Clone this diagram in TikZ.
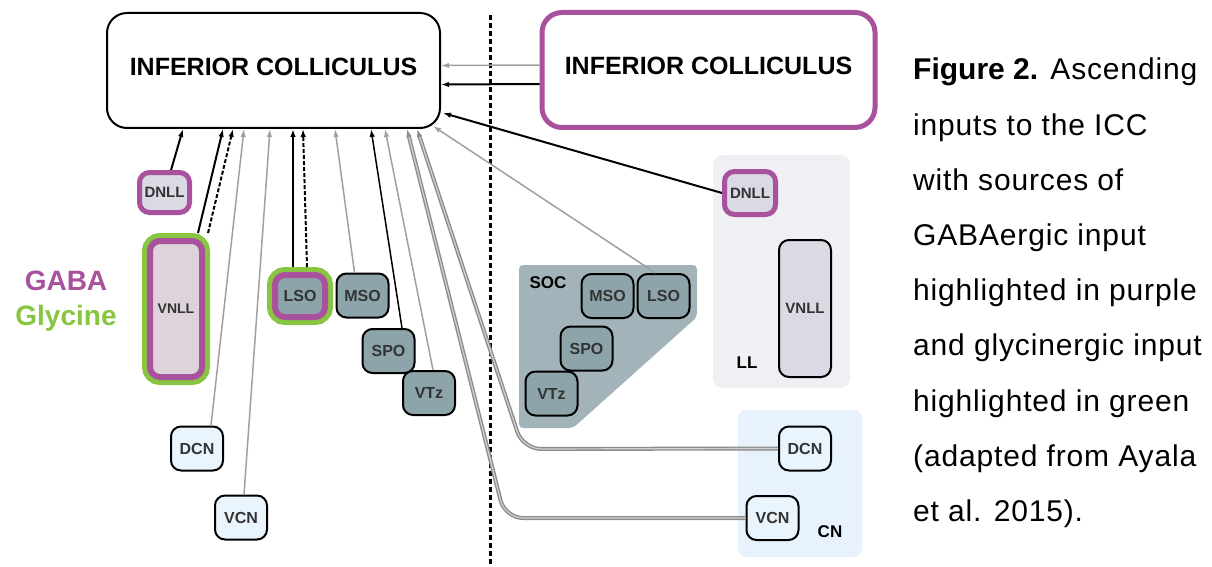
\documentclass[tikz,border=0pt]{standalone}
\usepackage{fontspec}
\setmainfont{Liberation Sans}
\usepackage{tikz}
\usetikzlibrary{arrows.meta}

\definecolor{gabapurple}{HTML}{A8529E}
\definecolor{glygreen}{HTML}{88C540}
\definecolor{socbg}{HTML}{A2B4B9}
\definecolor{socnode}{HTML}{8CA4AA}
\definecolor{llbg}{HTML}{EFEFF4}
\definecolor{llnode}{HTML}{D9DAE3}
\definecolor{vnllpink}{HTML}{DED2DB}
\definecolor{cnbg}{HTML}{E8F2FC}
\definecolor{cnnode}{HTML}{EAF4FD}
\definecolor{nuctext}{HTML}{333333}
\definecolor{arrowgray}{HTML}{A0A0A0}
\definecolor{doublegray}{HTML}{8C8C8C}

\tikzset{>={Latex[length=8pt,width=5.5pt]}}
\tikzset{
    nucleus/.style={draw, line width=2pt, rounded corners=10pt, minimum width=52pt,
        minimum height=44pt, inner sep=0pt, text=nuctext,
        font=\bfseries\fontsize{16}{16}\selectfont},
    socnuc/.style={nucleus, fill=socnode},
    cnnuc/.style={nucleus, fill=cnnode},
    gabanuc/.style={draw=gabapurple, line width=5pt},
    glynuc/.style={preaction={draw=glygreen, line width=16pt}, outer sep=8pt},
    icbox/.style={draw, line width=2pt, rounded corners=20pt, minimum width=333pt,
        minimum height=115pt, text depth=8pt, font=\bfseries\fontsize{25}{25}\selectfont},
    region/.style={font=\bfseries\fontsize{17}{17}\selectfont},
    blackarrow/.style={->, line width=2pt},
    grayarrow/.style={->, draw=arrowgray, line width=1.5pt},
    doublearrow/.style={->, draw=doublegray, double=gray!35, line width=1.4pt,
        double distance=1.2pt},
    midline/.style={line width=3pt, dash pattern=on 5pt off 3pt}
}

\begin{document}
\begin{tikzpicture}[x=1pt, y=-1pt]
    \useasboundingbox (0,0) rectangle (1212,567);
    \fill[white] (0,0) rectangle (1212,567);

    % areas on the right
    \fill[llbg, rounded corners=10pt] (713,155) rectangle (850,388);
    \fill[cnbg, rounded corners=8pt] (738,410) rectangle (862,557);
    \fill[socbg, rounded corners=4pt] (519,265) -- (697,265) -- (697,317)
        -- (573,428) -- (519,428) -- cycle;

    \coordinate (top) at (490,15);
    \coordinate (bottom) at (490,567);
    \draw[midline] (top) -- (bottom);

    \node[icbox] (ic) at (273.5,70.5) {INFERIOR COLLICULUS};
    \node[icbox, draw=gabapurple, line width=5pt] (icR) at (708.5,70) {INFERIOR COLLICULUS};

    % left side
    \node[nucleus, gabanuc, fill=llnode, minimum width=50pt, minimum height=40pt,
        font=\bfseries\fontsize{15}{15}\selectfont] (dnllL) at (164.5,192.5) {DNLL};
    \node[nucleus, gabanuc, glynuc, line width=6pt, fill=vnllpink, minimum width=52pt,
        minimum height=136pt, font=\bfseries\fontsize{14}{14}\selectfont] (vnllL) at (176,309) {VNLL};
    \node[socnuc, gabanuc, glynuc, line width=6pt, minimum width=50pt, minimum height=42pt]
        (lsoL) at (300,296) {LSO};
    \node[socnuc] (msoL) at (362.5,295.5) {MSO};
    \node[socnuc] (spoL) at (388.5,351) {SPO};
    \node[socnuc] (vtzL) at (429,393) {VTz};
    \node[cnnuc] (dcnL) at (197,448.5) {DCN};
    \node[cnnuc] (vcnL) at (241,517.5) {VCN};

    \node[font=\bfseries\fontsize{28}{28}\selectfont, text=gabapurple, anchor=base]
        (gabalabel) at (66,290) {GABA};
    \node[font=\bfseries\fontsize{28}{28}\selectfont, text=glygreen, anchor=base]
        (glylabel) at (66,325) {Glycine};

    % right side
    \node[region] (soclabel) at (548,283) {SOC};
    \node[region] (lllabel) at (747,363) {LL};
    \node[region] (cnlabel) at (830,532) {CN};
    \node[socnuc] (msoR) at (607.5,296) {MSO};
    \node[socnuc] (lsoR) at (663.5,296) {LSO};
    \node[socnuc] (spoR) at (586.5,348.5) {SPO};
    \node[socnuc] (vtzR) at (551.5,393.5) {VTz};
    \node[nucleus, gabanuc, fill=llnode, minimum width=51pt, minimum height=43pt,
        font=\bfseries\fontsize{15}{15}\selectfont] (dnllR) at (750,193) {DNLL};
    \node[nucleus, fill=llnode, minimum height=137pt,
        font=\bfseries\fontsize{15}{15}\selectfont] (vnllR) at (805,308.5) {VNLL};
    \node[cnnuc] (dcnR) at (805,448.5) {DCN};
    \node[cnnuc] (vcnR) at (772.5,518) {VCN};

    % inputs on the bottom of the IC
    \coordinate (inDNLL) at (183,129);
    \coordinate (inVNLLa) at (223,129);
    \coordinate (inVNLLb) at (233,129);
    \coordinate (inDCN) at (244,129);
    \coordinate (inVCN) at (270,129);
    \coordinate (inLSOa) at (293,129);
    \coordinate (inLSOb) at (303,129);
    \coordinate (inMSO) at (335,129);
    \coordinate (inSPO) at (371,129);
    \coordinate (inVTz) at (385,129);
    \coordinate (inVCNR) at (407,129);
    \coordinate (inDCNR) at (417,129);
    \coordinate (inLSOR) at (433,126);
    \coordinate (inDNLLR) at (443,113);
    \coordinate (bendDCN) at (523,449);
    \coordinate (bendVCN) at (505,518);

    \draw[blackarrow] (dnllL) -- (inDNLL);
    \draw[blackarrow] ([xshift=22pt]vnllL.north) -- (inVNLLa);
    \draw[blackarrow, dash pattern=on 4pt off 2pt] ([xshift=32pt]vnllL.north) -- (inVNLLb);
    \draw[grayarrow] ([xshift=14pt]dcnL.north) -- (inDCN);
    \draw[grayarrow] ([xshift=3pt]vcnL.north) -- (inVCN);
    \draw[blackarrow] ([xshift=-7pt]lsoL.north) -- (inLSOa);
    \draw[blackarrow, dash pattern=on 4pt off 2pt] ([xshift=7pt]lsoL.north) -- (inLSOb);
    \draw[grayarrow] ([xshift=-8pt]msoL.north) -- (inMSO);
    \draw[line width=1.5pt, ->] ([xshift=13.5pt]spoL.north) -- (inSPO);
    \draw[grayarrow] ([xshift=4pt]vtzL.north) -- (inVTz);
    \draw[doublearrow, rounded corners=18pt] (vcnR.west) -- (bendVCN) -- (inVCNR);
    \draw[doublearrow, rounded corners=18pt] (dcnR.west) -- (bendDCN) -- (inDCNR);
    \draw[grayarrow] ([xshift=-8pt]lsoR.north) -- (inLSOR);
    \draw[blackarrow] (dnllR.west) -- (inDNLLR);
    \draw[grayarrow] ([yshift=5pt]icR.west) -- ([yshift=5pt]ic.east);
    \draw[blackarrow] ([yshift=-14pt]icR.west) -- ([yshift=-14pt]ic.east);

    \node[anchor=north west, align=left, inner sep=0pt,
        font=\fontsize{30}{55.2}\selectfont\addfontfeature{LetterSpace=2.8}] (caption)
        at (913,58) {{\addfontfeature{LetterSpace=0}\bfseries Figure 2.} Ascending\\
        inputs to the ICC\\with sources of\\GABAergic input\\highlighted in purple\\
        and glycinergic input\\highlighted in green\\(adapted from Ayala\\et al. 2015).};
\end{tikzpicture}
\end{document}
